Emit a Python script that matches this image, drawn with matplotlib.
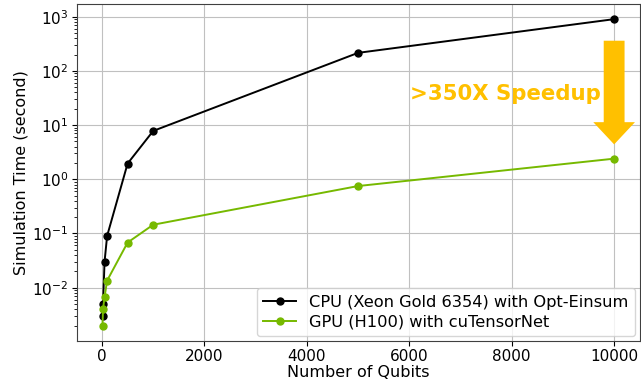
import matplotlib
matplotlib.use("Agg")
import matplotlib.pyplot as plt

# ── Data ─────────────────────────────────────────────────────────────────────
qubits = [10, 20, 50, 100, 500, 1000, 5000, 10000]
cpu_time = [0.003, 0.005, 0.03, 0.09, 1.95, 7.8, 215, 900]
gpu_time = [0.002, 0.004, 0.0067, 0.0135, 0.068, 0.145, 0.75, 2.4]

cpu_label = "CPU (Xeon Gold 6354) with Opt-Einsum"
gpu_label = "GPU (H100) with cuTensorNet"
speedup_text = ">350X Speedup"

GREEN = "#76b900"
AMBER = "#ffc000"

fig, ax = plt.subplots(figsize=(6.41, 3.83), dpi=100)
fig.subplots_adjust(left=0.120, right=0.998, top=0.990, bottom=0.110)

ax.plot(qubits, cpu_time, "-o", color="black", lw=1.4, ms=5, label=cpu_label)
ax.plot(qubits, gpu_time, "-o", color=GREEN, lw=1.4, ms=5, label=gpu_label)
ax.set_yscale("log")

ax.grid(True, color="#c0c0c0", lw=0.8)
ax.set_axisbelow(True)
for s in ax.spines.values():
    s.set_color("#404040")
ax.tick_params(labelsize=11, pad=2.5)
ax.set_xlabel("Number of Qubits", fontsize=11.5, labelpad=0.5)
ax.set_ylabel("Simulation Time (second)", fontsize=11.5, labelpad=3)

# speedup arrow + label
ax.annotate("", xy=(10000, 4.4), xytext=(10000, 360),
            arrowprops=dict(facecolor=AMBER, edgecolor="none",
                            width=15, headwidth=30, headlength=16, shrink=0))
ax.text(7880, 38, speedup_text, color=AMBER, fontsize=15.3, fontweight="bold",
        ha="center", va="center")

ax.legend(loc="lower right", fontsize=11.7, borderaxespad=0.3,
          handlelength=2, labelspacing=0.3)

fig.savefig("out.png", dpi=100)
